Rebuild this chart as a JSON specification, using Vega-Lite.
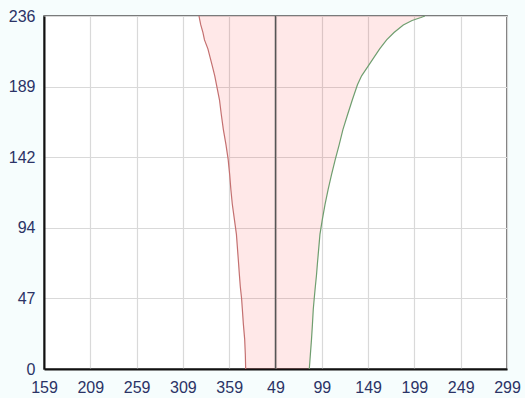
{
  "$schema": "https://vega.github.io/schema/vega-lite/v6.json",
  "width": 463,
  "height": 353,
  "autosize": {"type": "none"},
  "padding": {"left": 44, "top": 16, "right": 18, "bottom": 29},
  "background": "#f6fdfd",
  "config": {
    "view": {"fill": "white", "stroke": "#505050", "strokeWidth": 1.5},
    "axis": {
      "grid": true,
      "gridColor": "#d9d9d9",
      "gridWidth": 1.2,
      "ticks": false,
      "domainColor": "#111111",
      "domainWidth": 2,
      "labelFont": "Liberation Sans",
      "labelFontSize": 16,
      "labelColor": "#2b3366",
      "title": null
    }
  },
  "datasets": {
    "band": [
      {"y": 0, "lo": 376.8, "hi": 445.5},
      {"y": 10, "lo": 376.4, "hi": 446.7},
      {"y": 20, "lo": 375.7, "hi": 447.9},
      {"y": 30, "lo": 374.3, "hi": 448.9},
      {"y": 40, "lo": 373.2, "hi": 449.8},
      {"y": 47, "lo": 372.4, "hi": 450.8},
      {"y": 55, "lo": 371.0, "hi": 452.0},
      {"y": 63, "lo": 370.0, "hi": 453.3},
      {"y": 70, "lo": 369.2, "hi": 454.2},
      {"y": 80, "lo": 368.0, "hi": 455.6},
      {"y": 90, "lo": 366.8, "hi": 457.0},
      {"y": 100, "lo": 364.6, "hi": 459.6},
      {"y": 110, "lo": 362.4, "hi": 462.5},
      {"y": 120, "lo": 360.8, "hi": 465.8},
      {"y": 130, "lo": 359.5, "hi": 469.5},
      {"y": 140, "lo": 357.9, "hi": 473.5},
      {"y": 150, "lo": 355.5, "hi": 477.8},
      {"y": 160, "lo": 352.7, "hi": 481.8},
      {"y": 170, "lo": 350.5, "hi": 486.8},
      {"y": 180, "lo": 348.5, "hi": 492.0},
      {"y": 190, "lo": 345.3, "hi": 497.5},
      {"y": 196, "lo": 343.4, "hi": 502.0},
      {"y": 202, "lo": 341.0, "hi": 508.5},
      {"y": 208, "lo": 338.5, "hi": 515.0},
      {"y": 214, "lo": 336.0, "hi": 521.5},
      {"y": 220, "lo": 332.3, "hi": 529.0},
      {"y": 225, "lo": 330.6, "hi": 537.0},
      {"y": 230, "lo": 328.3, "hi": 547.0},
      {"y": 233, "lo": 327.3, "hi": 556.5},
      {"y": 235, "lo": 326.7, "hi": 566.0},
      {"y": 236, "lo": 326.4, "hi": 570.4}
    ],
    "center": [{"c": 409}]
  },
  "layer": [
    {
      "data": {"name": "band"},
      "mark": {"type": "area", "orient": "horizontal", "fill": "#ff2020", "fillOpacity": 0.1},
      "encoding": {
        "y": {"field": "y", "type": "quantitative", "scale": {"domain": [0, 236], "nice": false, "zero": false},
          "axis": {"values": [0, 47.2, 94.4, 141.6, 188.8, 236], "format": ".0f", "labelPadding": 9}},
        "x": {"field": "lo", "type": "quantitative", "scale": {"domain": [159, 659], "nice": false, "zero": false},
          "axis": {"values": [159, 209, 259, 309, 359, 409, 459, 509, 559, 609, 659], "labelExpr": "datum.value % 360", "labelPadding": 10, "labelOverlap": false, "labelFlush": false, "labelDx": 3}},
        "x2": {"field": "hi"}
      }
    },
    {
      "data": {"name": "band"},
      "mark": {"type": "line", "color": "#c47070", "strokeWidth": 1.2},
      "encoding": {
        "y": {"field": "y", "type": "quantitative"},
        "x": {"field": "lo", "type": "quantitative"},
        "order": {"field": "y"}
      }
    },
    {
      "data": {"name": "band"},
      "mark": {"type": "line", "color": "#6f9e6f", "strokeWidth": 1.2},
      "encoding": {
        "y": {"field": "y", "type": "quantitative"},
        "x": {"field": "hi", "type": "quantitative"},
        "order": {"field": "y"}
      }
    },
    {
      "data": {"name": "center"},
      "mark": {"type": "rule", "color": "#555555", "strokeWidth": 1.5},
      "encoding": {
        "x": {"field": "c", "type": "quantitative"}
      }
    }
  ]
}
